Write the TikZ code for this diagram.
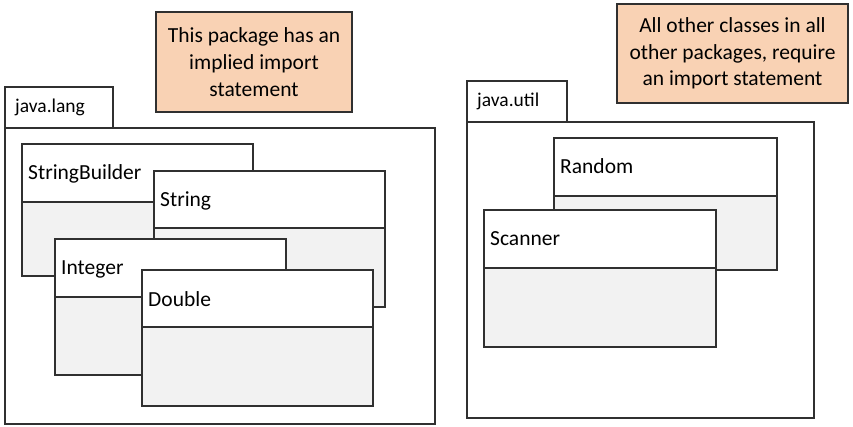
\documentclass[tikz,border=0pt]{standalone}
\usepackage{fontspec}
\setmainfont{Carlito}
\definecolor{linecol}{HTML}{303030}
\definecolor{classgray}{HTML}{F2F2F2}
\definecolor{notefill}{HTML}{F9D2B4}
\tikzset{
  umlline/.style={draw=linecol, line width=1.4pt},
  classlabel/.style={anchor=base west, inner sep=0pt, font=\fontsize{21.5}{26}\selectfont},
  pkglabel/.style={anchor=base west, inner sep=0pt, font=\fontsize{19.5}{24}\selectfont},
  notebox/.style={draw=linecol, line width=1.4pt, fill=notefill, align=center, inner sep=0pt,
    font=\fontsize{21.5}{26.7}\selectfont},
}
\newcommand\umlclass[7]{%
  \fill[white] (#2,#3) rectangle (#4,#5);
  \fill[classgray] (#2,#5) rectangle (#4,#6);
  \draw[umlline] (#2,#3) rectangle (#4,#6);
  \draw[umlline] (#2,#5) -- (#4,#5);
  \node[classlabel] (#1) at ({#2+6},{#3+36}) {#7};
}
\newcommand\umlpackage[8]{%
  \draw[umlline, fill=white] (#2,#3) rectangle (#4,#5);
  \draw[umlline, fill=white] (#2,#5) rectangle (#6,#7);
  \node[pkglabel] (#1) at ({#2+10},{(#3+#5)/2+5.5}) {#8};
}
\begin{document}
\begin{tikzpicture}[x=1pt,y=-1pt]
\useasboundingbox (0,0) rectangle (853,427);
% notes
\node[notebox, minimum width=196pt, minimum height=100pt] (note1) at (254,62)
  {This package has an\\implied import\\statement};
\node[notebox, minimum width=231pt, minimum height=99pt] (note2) at (732.5,53.5)
  {All other classes in all\\other packages, require\\an import statement};
% java.lang
\umlpackage{javalang}{5}{87}{113}{128}{435}{424}{java.lang}
\umlclass{sb}{22}{144}{253}{202}{276}{StringBuilder}
\umlclass{str}{154}{171}{385}{228}{307}{String}
\umlclass{int}{55}{239}{286}{297}{375}{Integer}
\umlclass{dbl}{142}{270}{373}{327}{406}{Double}
% java.util
\umlpackage{javautil}{467}{81}{567}{122}{814}{418}{java.util}
\umlclass{rnd}{554}{138}{777}{196}{270}{Random}
\umlclass{scn}{484}{210}{716}{268}{347}{Scanner}
\end{tikzpicture}
\end{document}
